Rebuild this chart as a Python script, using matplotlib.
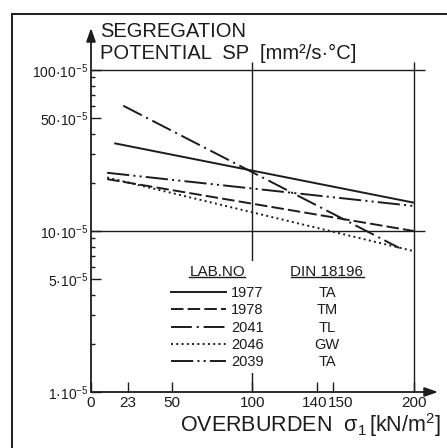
import matplotlib
matplotlib.use("Agg")
import matplotlib.pyplot as plt
import matplotlib.transforms as mtransforms
from matplotlib.lines import Line2D
from matplotlib.ticker import FixedLocator, NullFormatter

plt.rcParams['font.family'] = ['Liberation Sans', 'DejaVu Sans']
plt.rcParams['mathtext.fontset'] = 'custom'
plt.rcParams['mathtext.rm'] = 'Liberation Sans'
plt.rcParams['mathtext.it'] = 'Liberation Sans:italic'
plt.rcParams['mathtext.sf'] = 'Liberation Sans'
plt.rcParams['lines.scale_dashes'] = False

ink = '#1c1c1c'

# data (overburden kN/m2, segregation potential mm2/s.C)
lab_no = ['1977', '1978', '2041', '2046', '2039']
din_class = ['TA', 'TM', 'TL', 'GW', 'TA']

x_1977 = [15, 200]
sp_1977 = [35e-5, 15e-5]
x_1978 = [10, 200]
sp_1978 = [21e-5, 10e-5]
x_2041 = [20, 191]
sp_2041 = [60e-5, 7.85e-5]
x_2046 = [10, 200]
sp_2046 = [21.5e-5, 7.5e-5]
x_2039 = [10, 200]
sp_2039 = [23e-5, 14.3e-5]

x_ticks = [0, 23, 50, 100, 140, 150, 200]
x_labels = ['0', '23', '50', '100', '140', '150', '200']
y_ticks = [1e-5, 5e-5, 10e-5, 50e-5, 100e-5]
y_labels = ['1·10$^{-5}$', '5·10$^{-5}$', '10·10$^{-5}$', '50·10$^{-5}$', '100·10$^{-5}$']
grid_y = [10e-5, 100e-5]
grid_x = [100, 200]

styles = ['-', (0, (9, 3)), (0, (15, 3.5, 1.5, 3.5)), (0, (1.4, 2.4)),
          (0, (16, 3, 1.5, 3, 1.5, 3))]

fig = plt.figure(figsize=(4.47, 4.48), dpi=100)
W, H = 447, 448
ax = fig.add_axes([91 / W, 56 / H, 347 / W, 364 / H])
ax.set_yscale('log')
ax.set_xlim(0, 215)
ax.set_ylim(1e-5, 1.824e-3)
for s in ax.spines.values():
    s.set_visible(False)

# grid
ax.hlines(grid_y, 0, 207, color=ink, lw=1.0)
ax.vlines(grid_x, 1e-5, 1.12e-3, color=ink, lw=1.0)

handles = []
for xs, ys, ls in zip([x_1977, x_1978, x_2041, x_2046, x_2039],
                      [sp_1977, sp_1978, sp_2041, sp_2046, sp_2039], styles):
    ln, = ax.plot(xs, ys, color=ink, lw=1.4, linestyle=ls)
    handles.append(ln)

# axes arrows
arr = dict(arrowstyle='-|>,head_length=0.8,head_width=0.28', lw=1.3, color=ink,
           shrinkA=0, shrinkB=0)
ax.annotate('', xy=(1, 0), xytext=(0, 0), xycoords='axes fraction', arrowprops=arr)
ax.annotate('', xy=(0, 1), xytext=(0, 0), xycoords='axes fraction', arrowprops=arr)

ax.xaxis.set_major_locator(FixedLocator(x_ticks))
ax.set_xticklabels(x_labels)
ax.yaxis.set_major_locator(FixedLocator(y_ticks))
ax.set_yticklabels(y_labels)
ax.yaxis.set_minor_locator(FixedLocator([k * 10.0 ** e for e in (-5, -4) for k in (2, 3, 4, 6, 7, 8, 9)]))
ax.yaxis.set_minor_formatter(NullFormatter())
ax.tick_params(axis='both', which='both', direction='in', color=ink, width=1.0)
ax.tick_params(axis='x', which='major', length=7, pad=3, labelsize=11, labelcolor=ink)
ax.tick_params(axis='y', which='major', length=7, pad=2, labelsize=10, labelcolor=ink)
ax.tick_params(axis='y', which='minor', length=3)

# 140 and 150 labels sit apart from their ticks, as in the original
xl = ax.get_xticklabels()
xl[4].set_transform(xl[4].get_transform() + mtransforms.ScaledTranslation(-0.025, 0, fig.dpi_scale_trans))
xl[5].set_transform(xl[5].get_transform() + mtransforms.ScaledTranslation(0.08, 0, fig.dpi_scale_trans))

leg = ax.legend(handles, lab_no, title='LAB.NO', loc='upper left',
                bbox_to_anchor=(167 / W, (H - 261) / H), bbox_transform=fig.transFigure,
                frameon=True, facecolor='white', edgecolor='none', framealpha=1,
                fontsize=10.5, title_fontsize=11, handlelength=3.8, handletextpad=0.35,
                labelspacing=0.22, borderpad=0.25, borderaxespad=0)
leg._legend_box.sep = 5.5
for t in leg.get_texts():
    t.set_color(ink)
leg.get_title().set_color(ink)

# titles
fig.text(100 / W, (H - 37) / H, 'SEGREGATION', fontsize=14.5, color=ink)
fig.text(100 / W, (H - 59) / H, 'POTENTIAL  SP  [mm²/s·°C]', fontsize=14.5, color=ink)
fig.text(180 / W, (H - 432) / H, r'OVERBURDEN  $\mathrm{\sigma}_1\,$[kN/m$^2$]', fontsize=15.5, color=ink)

# frame
fig.add_artist(Line2D([12 / W, 1], [(H - 14) / H] * 2, color=ink, lw=1.4))
fig.add_artist(Line2D([12 / W] * 2, [0, (H - 14) / H], color=ink, lw=1.4))

# DIN column aligned with legend rows
fig.canvas.draw()
r = fig.canvas.get_renderer()
tb = leg.get_title().get_window_extent(r)
head = fig.text(327 / W, (tb.y0 + tb.y1) / 2 / H, 'DIN 18196', fontsize=11,
                ha='center', va='center', color=ink)
for t, code in zip(leg.get_texts(), din_class):
    bb = t.get_window_extent(r)
    fig.text(327 / W, (bb.y0 + bb.y1) / 2 / H, code, fontsize=10.5,
             ha='center', va='center', color=ink)
hb = head.get_window_extent(r)
for bb in (tb, hb):
    fig.add_artist(Line2D([bb.x0 / W, bb.x1 / W], [(bb.y0 + 1.5) / H] * 2, color=ink, lw=1.0))

fig.savefig('out.png', dpi=100)
